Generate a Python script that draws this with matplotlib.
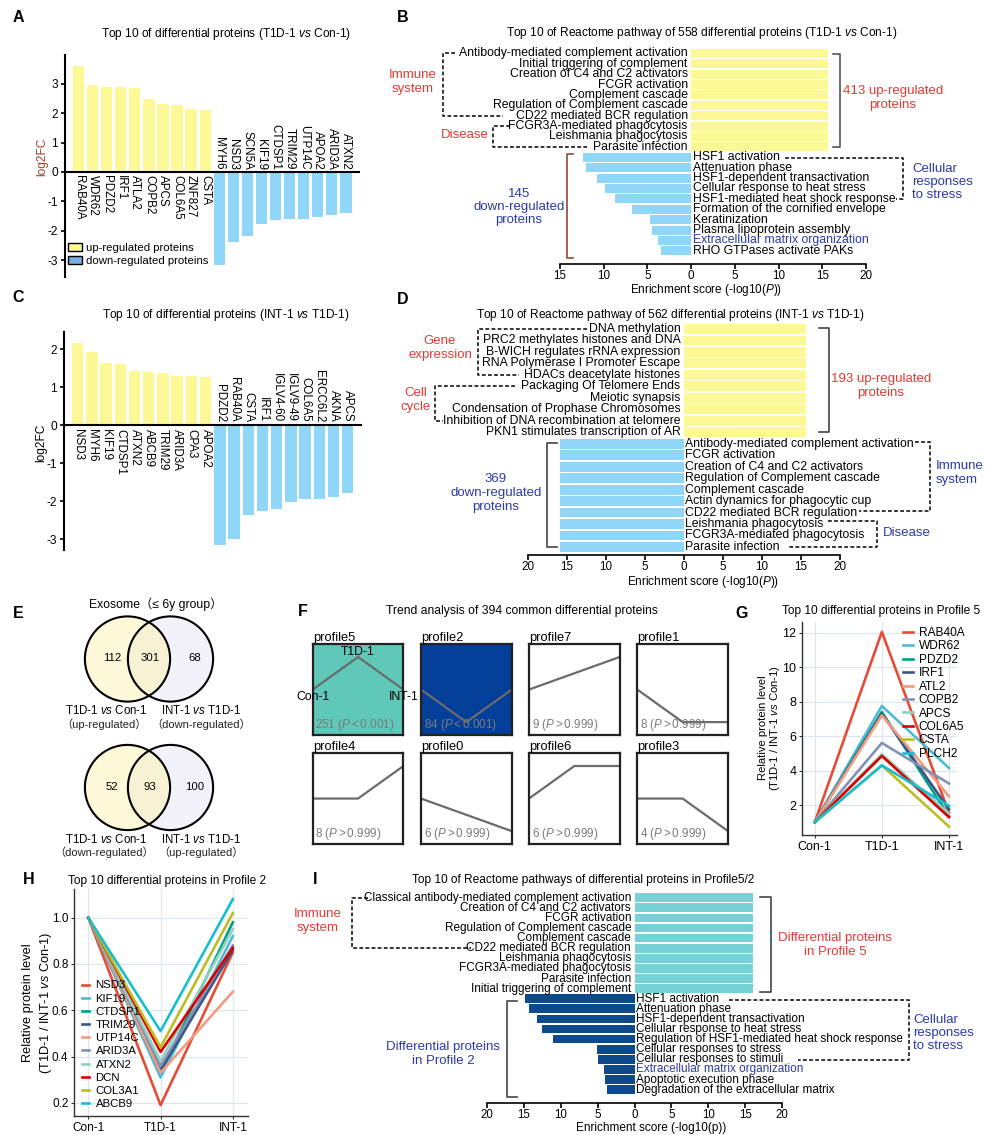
import numpy as np
import matplotlib
matplotlib.use('Agg')
import matplotlib.pyplot as plt
from matplotlib.patches import Circle, Patch

# ---------------- data ----------------
# A: T1D-1 vs Con-1, log2FC
a_up = ['RAB40A', 'WDR62', 'PDZD2', 'IRF1', 'ATLA2', 'COPB2', 'APCS', 'COL6A5', 'ZNF827', 'CSTA']
a_up_fc = [3.60, 2.96, 2.90, 2.88, 2.86, 2.50, 2.31, 2.28, 2.13, 2.12]
a_dn = ['MYH6', 'NSD3', 'SCN5A', 'KIF19', 'CTDSP1', 'TRIM29', 'UTP14C', 'APOA2', 'ARID3A', 'ATXN2']
a_dn_fc = [-3.16, -2.39, -2.18, -1.77, -1.63, -1.60, -1.60, -1.53, -1.46, -1.38]

# C: INT-1 vs T1D-1, log2FC
c_up = ['NSD3', 'MYH6', 'KIF19', 'CTDSP1', 'ATXN2', 'ABCB9', 'TRIM29', 'ARID3A', 'CPA3', 'APOA2']
c_up_fc = [2.17, 1.93, 1.64, 1.61, 1.42, 1.40, 1.37, 1.30, 1.29, 1.27]
c_dn = ['PDZD2', 'RAB40A', 'CSTA', 'IRF1', 'IGLV4-60', 'IGLV9-49', 'COL6A5', 'ERCC6L2', 'AKNA', 'APCS']
c_dn_fc = [-3.16, -3.00, -2.38, -2.26, -2.22, -2.02, -1.95, -1.95, -1.90, -1.80]

# B: Reactome, T1D-1 vs Con-1
b_up = ['Antibody-mediated complement activation', 'Initial triggering of complement',
        'Creation of C4 and C2 activators', 'FCGR activation', 'Complement cascade',
        'Regulation of Complement cascade', 'CD22 mediated BCR regulation',
        'FCGR3A-mediated phagocytosis', 'Leishmania phagocytosis', 'Parasite infection']
b_up_score = [15.6, 15.6, 15.6, 15.6, 15.6, 15.6, 15.6, 15.6, 15.6, 15.6]
b_dn = ['HSF1 activation', 'Attenuation phase', 'HSF1-dependent transactivation',
        'Cellular response to heat stress', 'HSF1-mediated heat shock response',
        'Formation of the cornified envelope', 'Keratinization', 'Plasma lipoprotein assembly',
        'Extracellular matrix organization', 'RHO GTPases activate PAKs']
b_dn_score = [12.4, 12.0, 10.8, 9.8, 8.7, 6.8, 4.7, 4.5, 3.8, 3.5]

# D: Reactome, INT-1 vs T1D-1
d_up = ['DNA methylation', 'PRC2 methylates histones and DNA', 'B-WICH regulates rRNA expression',
        'RNA Polymerase I Promoter Escape', 'HDACs deacetylate histones',
        'Packaging Of Telomere Ends', 'Meiotic synapsis', 'Condensation of Prophase Chromosomes',
        'Inhibition of DNA recombination at telomere', 'PKN1 stimulates transcription of AR']
d_up_score = [15.7, 15.7, 15.7, 15.7, 15.7, 15.7, 15.7, 15.7, 15.7, 15.7]
d_dn = ['Antibody-mediated complement activation', 'FCGR activation',
        'Creation of C4 and C2 activators', 'Regulation of Complement cascade',
        'Complement cascade', 'Actin dynamics for phagocytic cup', 'CD22 mediated BCR regulation',
        'Leishmania phagocytosis', 'FCGR3A-mediated phagocytosis', 'Parasite infection']
d_dn_score = [15.9, 15.9, 15.9, 15.9, 15.9, 15.9, 15.9, 15.9, 15.9, 15.9]

# E: Venn counts
venn_up = [112, 301, 68]
venn_dn = [52, 93, 100]

# F: trend profiles
prof_names = ['profile5', 'profile2', 'profile7', 'profile1', 'profile4', 'profile0', 'profile6', 'profile3']
prof_model = [[0, 1, 0], [0, -1, 0], [0, 1, 2], [0, -1, -1], [0, 0, 1], [0, -1, -2], [0, 1, 1], [0, 0, -1]]
prof_count = [251, 84, 9, 8, 8, 6, 6, 4]
prof_sig = [True, True, False, False, False, False, False, False]

# G: profile 5 proteins, relative level
groups = ['Con-1', 'T1D-1', 'INT-1']
con_level = 1.0
g_names = ['RAB40A', 'WDR62', 'PDZD2', 'IRF1', 'ATL2', 'COPB2', 'APCS', 'COL6A5', 'CSTA', 'PLCH2']
g_t1d = [12.05, 7.75, 7.40, 7.30, 7.20, 5.60, 4.95, 4.85, 4.30, 4.30]
g_int = [1.55, 4.15, 1.35, 1.75, 2.50, 3.25, 1.50, 1.30, 0.75, 1.95]

# H: profile 2 proteins
h_names = ['NSD3', 'KIF19', 'CTDSP1', 'TRIM29', 'UTP14C', 'ARID3A', 'ATXN2', 'DCN', 'COL3A1', 'ABCB9']
h_t1d = [0.19, 0.31, 0.33, 0.34, 0.33, 0.36, 0.38, 0.42, 0.44, 0.51]
h_int = [0.85, 0.92, 0.98, 0.86, 0.68, 0.88, 0.95, 0.87, 1.02, 1.08]

# I: Reactome, profile 5 / 2
i_up = ['Classical antibody-mediated complement activation', 'Creation of C4 and C2 activators',
        'FCGR activation', 'Regulation of Complement cascade', 'Complement cascade',
        'CD22 mediated BCR regulation', 'Leishmania phagocytosis', 'FCGR3A-mediated phagocytosis',
        'Parasite infection', 'Initial triggering of complement']
i_up_score = [16.0, 16.0, 16.0, 16.0, 16.0, 16.0, 16.0, 16.0, 16.0, 16.0]
i_dn = ['HSF1 activation', 'Attenuation phase', 'HSF1-dependent transactivation',
        'Cellular response to heat stress', 'Regulation of HSF1-mediated heat shock response',
        'Cellular responses to stress', 'Cellular responses to stimuli',
        'Extracellular matrix organization', 'Apoptotic execution phase',
        'Degradation of the extracellular matrix']
i_dn_score = [14.8, 14.3, 13.2, 12.6, 11.1, 5.1, 4.95, 4.2, 4.05, 3.7]

# ---------------- style ----------------
YEL = '#fcf896'
SKY = '#8fd6f8'
TEAL = '#76d2d6'
NAVY = '#0c4a8c'
RED_T = '#e23a32'
BLUE_T = '#2b3aa8'
pal = ['#E64B35', '#4DBBD5', '#00A087', '#3C5488', '#F39B7F',
       '#8491B4', '#91D1C2', '#DC0000', '#BCBD22', '#17BECF']

W, H = 994, 1135
plt.rcParams['font.family'] = ['Liberation Sans', 'Noto Sans CJK SC', 'DejaVu Sans']
plt.rcParams['mathtext.fontset'] = 'custom'
plt.rcParams['mathtext.rm'] = 'Liberation Sans'
plt.rcParams['mathtext.it'] = 'Liberation Sans:italic'
plt.rcParams['mathtext.sf'] = 'Liberation Sans'
plt.rcParams['axes.unicode_minus'] = False

fig = plt.figure(figsize=(W / 100, H / 100), dpi=100)


def add_ax(l, t, r, b, **kw):
    return fig.add_axes([l / W, 1 - b / H, (r - l) / W, (b - t) / H], **kw)


ov = add_ax(0, 0, W, H, zorder=10)
ov.set_xlim(0, W)
ov.set_ylim(H, 0)
ov.axis('off')


def dashed(pts, lw=1.1):
    xs, ys = zip(*pts)
    ov.plot(xs, ys, color='k', lw=lw, ls=(0, (2.5, 1.5)))


def bracket(x_in, x_out, top, bot, color='#444444'):
    ov.plot([x_in, x_out, x_out, x_in], [top, top, bot, bot], color=color, lw=1.2)


def fc_panel(ax, up, upv, dn, dnv, ylim):
    names = up + dn
    vals = upv + dnv
    x = np.arange(len(vals))
    ax.bar(x, vals, width=0.8, color=[YEL] * len(up) + [SKY] * len(dn))
    ax.axhline(0, color='k', lw=1.5)
    for xi, name, v in zip(x, names, vals):
        if v > 0:
            ax.text(xi, -0.1, name, rotation=270, ha='center', va='top', fontsize=8.4)
        else:
            ax.text(xi, 0.08, name, rotation=270, ha='center', va='bottom', fontsize=8.4)
    ax.set_xlim(-0.96, 20)
    ax.set_ylim(ylim)
    ax.set_xticks([])
    ax.tick_params(axis='y', labelsize=8.6, length=3, width=1.2, pad=2)
    for s in ['top', 'right', 'bottom']:
        ax.spines[s].set_visible(False)
    ax.spines['left'].set_linewidth(1.5)


def enrich_panel(ax, up, upv, dn, dnv, c_up, c_dn, xlim, ticks, fs, blue_names=(), tfs=8.4):
    yu = np.arange(len(up))
    yd = np.arange(len(up), len(up) + len(dn))
    ax.barh(yu, upv, height=0.86, color=c_up)
    ax.barh(yd, [-v for v in dnv], height=0.86, color=c_dn)
    for y, t in zip(yu, up):
        ax.annotate(t, (0, y), xytext=(-2.5, 0), textcoords='offset points',
                    ha='right', va='center', fontsize=fs)
    for y, t in zip(yd, dn):
        ax.annotate(t, (0, y), xytext=(1, 0), textcoords='offset points',
                    ha='left', va='center', fontsize=fs,
                    color=BLUE_T if t in blue_names else 'k')
    ax.set_xlim(xlim)
    ax.set_xticks(ticks)
    ax.set_xticklabels([str(abs(t)) for t in ticks])
    ax.set_yticks([])
    for s in ['left', 'right', 'top']:
        ax.spines[s].set_visible(False)
    ax.spines['bottom'].set_linewidth(1.2)
    ax.tick_params(axis='x', labelsize=tfs, length=3.5, width=1.2, pad=0.8)


def rows_ylim(y0, sp, y_top, y_axis):
    return ((y_axis - y0) / sp, (y_top - y0) / sp)


# ---------------- A ----------------
axA = add_ax(65, 55, 360, 277)
fc_panel(axA, a_up, a_up_fc, a_dn, a_dn_fc, (-(277 - 172) / 29.4, (172 - 55) / 29.4))
axA.set_yticks([-3, -2, -1, 0, 1, 2, 3])
axA.legend(handles=[Patch(facecolor=YEL, edgecolor='k', label='up-regulated proteins'),
                    Patch(facecolor='#74aee0', edgecolor='k', label='down-regulated proteins')],
           loc='lower left', bbox_to_anchor=(0.01, 0.05), frameon=False, fontsize=8.2,
           handlelength=1.2, handleheight=0.65, handletextpad=0.4, labelspacing=0.25,
           borderpad=0, borderaxespad=0)
ov.text(42.7, 157, 'log2FC', rotation=90, ha='center', va='center', fontsize=8.6, color='#a0402a')
ov.text(226, 34, r'Top 10 of differential proteins (T1D-1 $\mathit{vs}$ Con-1)', ha='center', va='center', fontsize=8.6)

# ---------------- C ----------------
axC = add_ax(64, 332, 362, 550)
fc_panel(axC, c_up, c_up_fc, c_dn, c_dn_fc, (-(550 - 425) / 38.0, (425 - 332) / 38.0))
axC.set_yticks([-3, -2, -1, 0, 1, 2])
ov.text(41, 443, 'log2FC', rotation=90, ha='center', va='center', fontsize=8.6)
ov.text(226, 315, r'Top 10 of differential proteins (INT-1 $\mathit{vs}$ T1D-1)', ha='center', va='center', fontsize=8.6)

# ---------------- B ----------------
axB = add_ax(560, 44, 866, 264)
enrich_panel(axB, b_up, b_up_score, b_dn, b_dn_score, YEL, SKY, (-15, 20),
             [-15, -10, -5, 0, 5, 10, 15, 20], 8.8, blue_names=('Extracellular matrix organization',))
axB.set_ylim(*rows_ylim(53.3, 10.4, 44, 264))
ov.text(702, 33, r'Top 10 of Reactome pathway of 558 differential proteins (T1D-1 $\mathit{vs}$ Con-1)',
        ha='center', va='center', fontsize=8.6)
ov.text(706, 290.5, r'Enrichment score (-log10($\mathit{P}$))', ha='center', va='center', fontsize=8.5)
bracket(833, 840, 54, 147, '#555555')
ov.text(893, 98, '413 up-regulated\nproteins', ha='center', va='center', fontsize=9.5,
        color=RED_T, linespacing=1.25)
bracket(573, 567, 154, 258, '#8b4a3a')
ov.text(519, 207, '145\ndown-regulated\nproteins', ha='center', va='center', fontsize=9.5,
        color=BLUE_T, linespacing=1.15)
dashed([(455, 53.3), (443, 53.3), (443, 115.7), (503, 115.7)])
ov.text(413, 82, 'Immune\nsystem', ha='center', va='center', fontsize=9.5, color=RED_T, linespacing=1.15)
dashed([(510, 126.1), (493, 126.1), (493, 146.9), (587, 146.9)])
ov.text(465, 135, 'Disease', ha='center', va='center', fontsize=9.5, color=RED_T)
dashed([(785, 158), (903, 158), (903, 199), (896, 199)])
ov.text(912, 182, 'Cellular\nresponses\nto stress', ha='left', va='center', fontsize=9.5,
        color=BLUE_T, linespacing=1.15)

# ---------------- D ----------------
axD = add_ax(528, 320, 840, 555)
enrich_panel(axD, d_up, d_up_score, d_dn, d_dn_score, YEL, SKY, (-20, 20),
             [-20, -15, -10, -5, 0, 5, 10, 15, 20], 8.8)
axD.set_ylim(*rows_ylim(329, 11.47, 320, 555))
ov.text(670, 315, r'Top 10 of Reactome pathway of 562 differential proteins (INT-1 $\mathit{vs}$ T1D-1)',
        ha='center', va='center', fontsize=8.6)
ov.text(703, 581.5, r'Enrichment score (-log10($\mathit{P}$))', ha='center', va='center', fontsize=8.5)
bracket(819, 829, 328, 432)
ov.text(881, 386, '193 up-regulated\nproteins', ha='center', va='center', fontsize=9.5,
        color=RED_T, linespacing=1.25)
bracket(557, 547, 443, 547)
ov.text(496, 493, '369\ndown-regulated\nproteins', ha='center', va='center', fontsize=9.5,
        color=BLUE_T, linespacing=1.2)
dashed([(587, 329), (477.5, 329), (477.5, 374.9), (518.6, 374.9)])
ov.text(440, 348, 'Gene\nexpression', ha='center', va='center', fontsize=9.5, color=RED_T, linespacing=1.15)
dashed([(515.4, 386.4), (435, 386.4), (435, 420.8), (443, 420.8)])
ov.text(416, 400, 'Cell\ncycle', ha='center', va='center', fontsize=9.5, color=RED_T, linespacing=1.15)
dashed([(915, 442), (930, 442), (930, 511), (859, 511)])
ov.text(936, 473, 'Immune\nsystem', ha='left', va='center', fontsize=9.5, color=BLUE_T, linespacing=1.15)
dashed([(828, 521), (877, 521), (877, 547), (788, 547)])
ov.text(883, 533, 'Disease', ha='left', va='center', fontsize=9.5, color=BLUE_T)

# ---------------- E ----------------
ov.text(155.7, 604, 'Exosome（≤ 6y group）', ha='center', va='center', fontsize=8.8)
for cy, counts, lab_l, lab_r in [(659, venn_up, '（up-regulated）', '（down-regulated）'),
                                 (787.5, venn_dn, '（down-regulated）', '（up-regulated）')]:
    ov.add_patch(Circle((170.5, cy), 42.6, facecolor='#f3f2fa', edgecolor='none', zorder=1))
    ov.add_patch(Circle((127.5, cy), 42.6, facecolor='#fdf3b8', alpha=0.55, edgecolor='none', zorder=2))
    ov.add_patch(Circle((127.5, cy), 42.6, facecolor='none', edgecolor='k', lw=1.5, zorder=3))
    ov.add_patch(Circle((170.5, cy), 42.6, facecolor='none', edgecolor='k', lw=1.5, zorder=3))
    for xx, n in zip([112, 150, 195], counts):
        ov.text(xx, cy - 1, str(n), ha='center', va='center', fontsize=8.2, zorder=4)
    ov.text(106, cy + 52, r'T1D-1 $\mathit{vs}$ Con-1', ha='center', va='center', fontsize=8.3)
    ov.text(201, cy + 52, r'INT-1 $\mathit{vs}$ T1D-1', ha='center', va='center', fontsize=8.3)
    ov.text(104, cy + 65, lab_l, ha='center', va='center', fontsize=8.0, color='#222222')
    ov.text(201, cy + 65, lab_r, ha='center', va='center', fontsize=8.0, color='#222222')

# ---------------- F ----------------
ov.text(522, 611, 'Trend analysis of 394 common differential proteins', ha='center', va='center', fontsize=8.7)
col_l = [312.7, 421, 529, 637.3]
row_t = [644.3, 753.3]
fills = {'profile5': '#5fc8b9', 'profile2': '#033f99'}
for k, (name, model, cnt, sig) in enumerate(zip(prof_names, prof_model, prof_count, prof_sig)):
    r, c = divmod(k, 4)
    ax = add_ax(col_l[c], row_t[r], col_l[c] + 90.7, row_t[r] + 90.5)
    m = max(abs(v) for v in model)
    ax.plot([0, 1, 2], model, color='#6b6b6b', lw=1.6)
    ax.set_xlim(0, 2)
    ax.set_ylim(-1.39 * m, 1.39 * m)
    ax.set_facecolor(fills.get(name, 'white'))
    ax.set_xticks([])
    ax.set_yticks([])
    for s in ax.spines.values():
        s.set_linewidth(1.6)
        s.set_color('#222222')
    ax.text(0.0, 1.0, name, transform=ax.transAxes, ha='left', va='bottom', fontsize=9.3)
    rel, pv = ('<', '0.001') if sig else ('>', '0.999')
    ax.text(0.03, 0.02, str(cnt) + r' ($\mathit{P}' + rel + r'\mathrm{' + pv + '}$)',
            transform=ax.transAxes, ha='left', va='bottom', fontsize=8.4, color='#7a7a7a')
    if name == 'profile5':
        ax.text(0.5, 0.91, 'T1D-1', transform=ax.transAxes, ha='center', va='center', fontsize=8.8)
        ax.text(0.0, 0.42, 'Con-1', transform=ax.transAxes, ha='center', va='center', fontsize=8.8, clip_on=False)
        ax.text(1.0, 0.42, 'INT-1', transform=ax.transAxes, ha='center', va='center', fontsize=8.8, clip_on=False)


def line_panel(ax, names, t1d, intv, xlim, ylim, yticks, ytl, fs):
    for n, a, b, c in zip(names, t1d, intv, pal):
        ax.plot([0, 1, 2], [con_level, a, b], color=c, lw=1.9, label=n)
    ax.set_xlim(xlim)
    ax.set_ylim(ylim)
    ax.set_xticks([0, 1, 2])
    ax.set_xticklabels(groups)
    ax.set_yticks(yticks)
    ax.set_yticklabels(ytl)
    ax.grid(True, color='#dde5ee', lw=0.8)
    ax.set_axisbelow(True)
    for s in ['top', 'right']:
        ax.spines[s].set_visible(False)
    for s in ['left', 'bottom']:
        ax.spines[s].set_color('#333333')
        ax.spines[s].set_linewidth(1.0)
    ax.tick_params(labelsize=fs, length=2.5, width=0.8, pad=1.5, color='#333333')


# ---------------- G ----------------
axG = add_ax(802, 621.7, 957, 835)
line_panel(axG, g_names, g_t1d, g_int, (-0.19, 2.12), (0.26, 12.64),
           [2, 4, 6, 8, 10, 12], ['2', '4', '6', '8', '10', '12'], 9.0)
axG.legend(loc='upper left', bbox_to_anchor=(0.652, 0.975), frameon=False, fontsize=8.6,
           handlelength=0.8, handletextpad=0.5, labelspacing=0.12, borderpad=0, borderaxespad=0)
ov.text(881, 611, 'Top 10 differential proteins in Profile 5', ha='center', va='center', fontsize=8.6)
ov.text(770, 728, 'Relative protein level\n(T1D-1 / INT-1 $\\mathit{vs}$ Con-1)', rotation=90,
        ha='center', va='center', fontsize=8.1, linespacing=1.1, multialignment='center')

# ---------------- H ----------------
axH = add_ax(74, 889, 248, 1116)
line_panel(axH, h_names, h_t1d, h_int, (-0.198, 2.21), (0.143, 1.124),
           [0.2, 0.4, 0.6, 0.8, 1.0], ['0.2', '0.4', '0.6', '0.8', '1.0'], 8.5)
axH.legend(loc='lower left', bbox_to_anchor=(0.045, 0.03), frameon=False, fontsize=8.2,
           handlelength=0.6, handletextpad=0.6, labelspacing=0.28, borderpad=0, borderaxespad=0)
ov.text(167, 881, 'Top 10 differential proteins in Profile 2', ha='center', va='center', fontsize=8.6)
ov.text(38, 1003, 'Relative protein level\n(T1D-1 / INT-1 $\\mathit{vs}$ Con-1)', rotation=90,
        ha='center', va='center', fontsize=9.2, linespacing=1.35, multialignment='center')

# ---------------- I ----------------
axI = add_ax(487, 889, 782, 1103)
enrich_panel(axI, i_up, i_up_score, i_dn, i_dn_score, TEAL, NAVY, (-20, 20),
             [-20, -15, -10, -5, 0, 5, 10, 15, 20], 8.5,
             blue_names=('Extracellular matrix organization',), tfs=8.3)
axI.set_ylim(*rows_ylim(897.7, 10.1, 889, 1103))
ov.text(583, 880, 'Top 10 of Reactome pathways of differential proteins in Profile5/2',
        ha='center', va='center', fontsize=8.6)
ov.text(651, 1128, 'Enrichment score (-log10(p))', ha='center', va='center', fontsize=8.5)
bracket(760, 771, 897, 992)
ov.text(835, 945, 'Differential proteins\nin Profile 5', ha='center', va='center', fontsize=9.5,
        color=RED_T, linespacing=1.25)
bracket(517, 507, 1001, 1097)
ov.text(443, 1054, 'Differential proteins\nin Profile 2', ha='center', va='center', fontsize=9.5,
        color=BLUE_T, linespacing=1.2)
dashed([(368, 898), (352.4, 898), (352.4, 948), (470.5, 948)])
ov.text(318, 921, 'Immune\nsystem', ha='center', va='center', fontsize=9.5, color=RED_T, linespacing=1.15)
dashed([(729, 1000), (909.4, 1000), (909.4, 1060), (798, 1060)])
ov.text(913, 1033, 'Cellular\nresponses\nto stress', ha='left', va='center', fontsize=9.5,
        color=BLUE_T, linespacing=1.15)

# ---------------- panel letters ----------------
for lab, x, y in [('A', 18, 18), ('B', 403, 18), ('C', 18, 298), ('D', 403, 300),
                  ('E', 18, 613), ('F', 303, 611), ('G', 742, 613), ('H', 29, 880), ('I', 315, 880)]:
    ov.text(x, y, lab, ha='center', va='center', fontsize=11.5, fontweight='bold')

fig.savefig('out.png', dpi=100)
